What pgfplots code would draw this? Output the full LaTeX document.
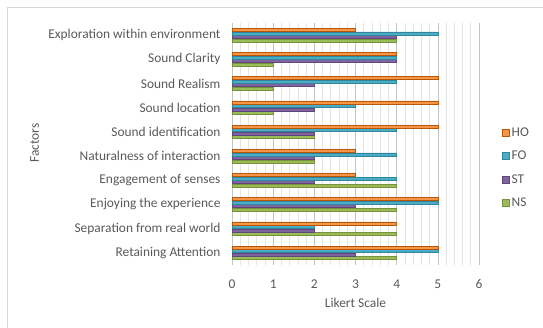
\documentclass[border=0pt]{standalone}
\usepackage{fontspec}
\setmainfont{Carlito}
\usepackage{pgfplots}
\pgfplotsset{compat=1.18}
\definecolor{txt}{HTML}{595959}
\definecolor{frame}{HTML}{D9D9D9}
\definecolor{gmaj}{HTML}{C4C4C4}
\definecolor{gmin}{HTML}{E4E4E4}
\definecolor{cHO}{HTML}{F79646}\definecolor{eHO}{HTML}{B65708}
\definecolor{cFO}{HTML}{4BACC6}\definecolor{eFO}{HTML}{31859C}
\definecolor{cST}{HTML}{8064A2}\definecolor{eST}{HTML}{5F497A}
\definecolor{cNS}{HTML}{9BBB59}\definecolor{eNS}{HTML}{76923C}
\begin{document}
\begin{tikzpicture}[x=1pt,y=1pt]
\useasboundingbox (0,0) rectangle (543,328);
\draw[frame, line width=0.8pt] (7.5,0) -- (7.5,320.5) -- (543,320.5);
\begin{axis}[
  at={(232pt,63pt)}, anchor=south west, scale only axis,
  width=247pt, height=242pt,
  xmin=0, xmax=6, ymin=-0.5, ymax=9.5,
  xbar, bar width=3pt,
  xtick={0,1,...,6}, minor x tick num=4,
  xmajorgrids, xminorgrids,
  major grid style={gmaj, line width=0.6pt},
  minor grid style={gmin, line width=0.6pt},
  ytick={0,1,...,9},
  yticklabels={Retaining Attention, Separation from real world, Enjoying the experience, Engagement of senses, Naturalness of interaction, Sound identification, Sound location, Sound Realism, Sound Clarity, Exploration within environment},
  axis line style={draw=none},
  major tick length=0pt, minor tick length=0pt,
  tick style={draw=none},
  /pgf/number format/assume math mode=true,
  ticklabel style={font=\fontsize{13.4}{15}\selectfont, text=txt},
  xticklabel style={yshift=-11pt},
  yticklabel style={xshift=-8pt},
  xlabel={Likert Scale}, ylabel={Factors},
  label style={font=\fontsize{13.4}{15}\selectfont, text=txt},
  xlabel style={at={(axis description cs:0.5,-0.157)}, anchor=center},
  ylabel style={at={(axis description cs:-0.799,0.504)}, anchor=center},
  legend style={draw=none, fill=none, at={(axis description cs:1.093,0.401)}, anchor=west,
    font=\fontsize{13.4}{15}\selectfont, text=txt, row sep=9.3pt, inner sep=0pt},
  legend cell align=left,
  reverse legend,
  legend image code/.code={\draw[#1, line width=0.5pt] (0pt,-3.5pt) rectangle (7pt,3.5pt);},
  clip=false,
]
\addplot[fill=cNS, draw=eNS, line width=0.5pt, bar shift=-5.25pt] coordinates {
 (4,0) (4,1) (4,2) (4,3) (2,4) (2,5) (1,6) (1,7) (1,8) (4,9)};
\addplot[fill=cST, draw=eST, line width=0.5pt, bar shift=-1.75pt] coordinates {
 (3,0) (2,1) (3,2) (2,3) (2,4) (2,5) (2,6) (2,7) (4,8) (4,9)};
\addplot[fill=cFO, draw=eFO, line width=0.5pt, bar shift=1.75pt] coordinates {
 (5,0) (2,1) (5,2) (4,3) (4,4) (4,5) (3,6) (4,7) (4,8) (5,9)};
\addplot[fill=cHO, draw=eHO, line width=0.5pt, bar shift=5.25pt] coordinates {
 (5,0) (4,1) (5,2) (3,3) (3,4) (5,5) (5,6) (5,7) (4,8) (3,9)};
\legend{NS,ST,FO,HO}
\end{axis}
\end{tikzpicture}
\end{document}
